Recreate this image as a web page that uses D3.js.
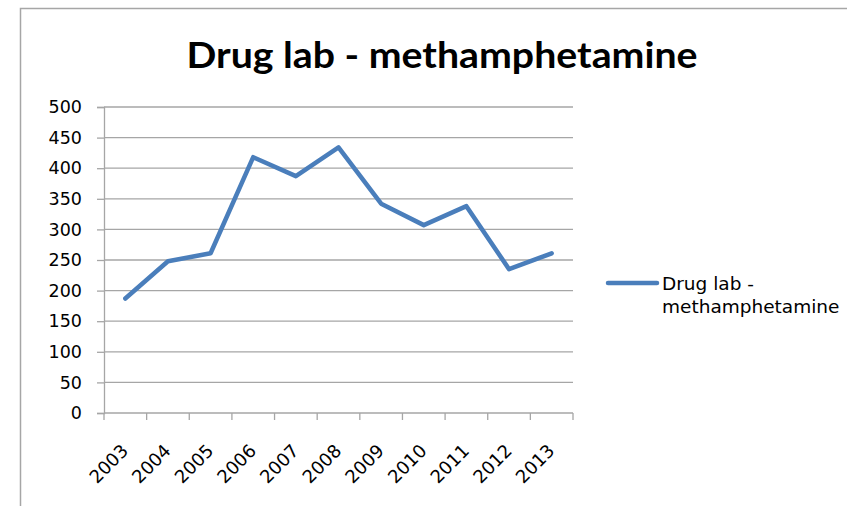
<!DOCTYPE html>
<html>
<head>
<meta charset="utf-8">
<script src="https://cdn.jsdelivr.net/npm/d3@7/dist/d3.min.js"></script>
<style>
  body { margin: 0; background: #fff; }
  svg { display: block; font-family: "DejaVu Sans", sans-serif; }
</style>
</head>
<body>
<svg id="chart" width="847" height="506"></svg>
<script>
// chart data
var years = ['2003', '2004', '2005', '2006', '2007', '2008', '2009', '2010', '2011', '2012', '2013'];
var seriesName = 'Drug lab - methamphetamine';
var labCounts = [187, 248, 261, 418, 387, 434, 342, 307, 338, 235, 261];
var yTicks = [0, 50, 100, 150, 200, 250, 300, 350, 400, 450, 500];

var svg = d3.select('#chart');
var GRID = '#a6a6a6';
var BLUE = '#4a7ebb';

// outer chart frame (runs off the right and bottom edges)
svg.append('rect')
    .attr('x', 20.5).attr('y', 8.5)
    .attr('width', 900).attr('height', 600)
    .attr('fill', '#fff')
    .attr('stroke', GRID)
    .attr('stroke-width', 1.5);

svg.append('text')
    .attr('x', 442).attr('y', 68)
    .attr('text-anchor', 'middle')
    .attr('font-family', 'Lato, "Open Sans", sans-serif')
    .attr('font-size', 37)
    .attr('font-weight', 'bold')
    .attr('textLength', 511)
    .attr('lengthAdjust', 'spacingAndGlyphs')
    .attr('fill', '#000')
    .text(seriesName);

var plot = { left: 104, right: 573, top: 107, bottom: 413 };

var x = d3.scaleBand().domain(years).range([plot.left, plot.right]);
var y = d3.scaleLinear().domain([0, 500]).range([plot.bottom, plot.top]);

// horizontal gridlines
svg.append('g')
    .selectAll('line')
    .data(yTicks.filter(function(d) { return d > 0; }))
    .join('line')
    .attr('x1', plot.left).attr('x2', plot.right)
    .attr('y1', function(d) { return y(d); })
    .attr('y2', function(d) { return y(d); })
    .attr('stroke', GRID)
    .attr('stroke-width', 1.3);

// y axis
var yAxis = svg.append('g')
    .attr('transform', 'translate(' + plot.left + ',0)')
    .call(d3.axisLeft(y).tickValues(yTicks).tickSize(7).tickPadding(15));
yAxis.select('.domain').attr('stroke', GRID).attr('stroke-width', 1.3);
yAxis.selectAll('.tick line').attr('stroke', GRID).attr('stroke-width', 1.3);
yAxis.selectAll('.tick text')
    .attr('font-size', 17.5)
    .attr('font-family', '"DejaVu Sans", sans-serif')
    .attr('fill', '#000');

// x axis: ticks at category boundaries
var boundaries = years.map(function(d) { return x(d); }).concat([plot.right]);
var xAxis = svg.append('g').attr('transform', 'translate(0,' + plot.bottom + ')');
xAxis.append('line')
    .attr('x1', plot.left).attr('x2', plot.right)
    .attr('stroke', GRID).attr('stroke-width', 1.3);
xAxis.selectAll('.bound')
    .data(boundaries)
    .join('line')
    .attr('class', 'bound')
    .attr('x1', function(d) { return d; }).attr('x2', function(d) { return d; })
    .attr('y1', 0).attr('y2', 7)
    .attr('stroke', GRID).attr('stroke-width', 1.3);
xAxis.selectAll('.lbl')
    .data(years)
    .join('text')
    .attr('class', 'lbl')
    .attr('text-anchor', 'end')
    .attr('font-size', 18)
    .attr('fill', '#000')
    .attr('transform', function(d) {
        return 'translate(' + (x(d) + x.bandwidth() / 2 + 4) + ',' + 39 + ') rotate(-45)';
    })
    .text(function(d) { return d; });

// series line
var line = d3.line()
    .x(function(d, i) { return x(years[i]) + x.bandwidth() / 2; })
    .y(function(d) { return y(d); });

svg.append('path')
    .datum(labCounts)
    .attr('d', line)
    .attr('fill', 'none')
    .attr('stroke', BLUE)
    .attr('stroke-width', 4.5)
    .attr('stroke-linejoin', 'round')
    .attr('stroke-linecap', 'round');

// legend
var legend = svg.append('g').attr('transform', 'translate(608,283)');
legend.append('line')
    .attr('x1', 0).attr('x2', 49)
    .attr('stroke', BLUE).attr('stroke-width', 4.5)
    .attr('stroke-linecap', 'round');
var lt = legend.append('text')
    .attr('x', 54).attr('y', 7)
    .attr('font-size', 18.5)
    .attr('fill', '#000');
lt.append('tspan').attr('x', 54).text('Drug lab -');
lt.append('tspan').attr('x', 54).attr('dy', 23).text('methamphetamine');
</script>
</body>
</html>
